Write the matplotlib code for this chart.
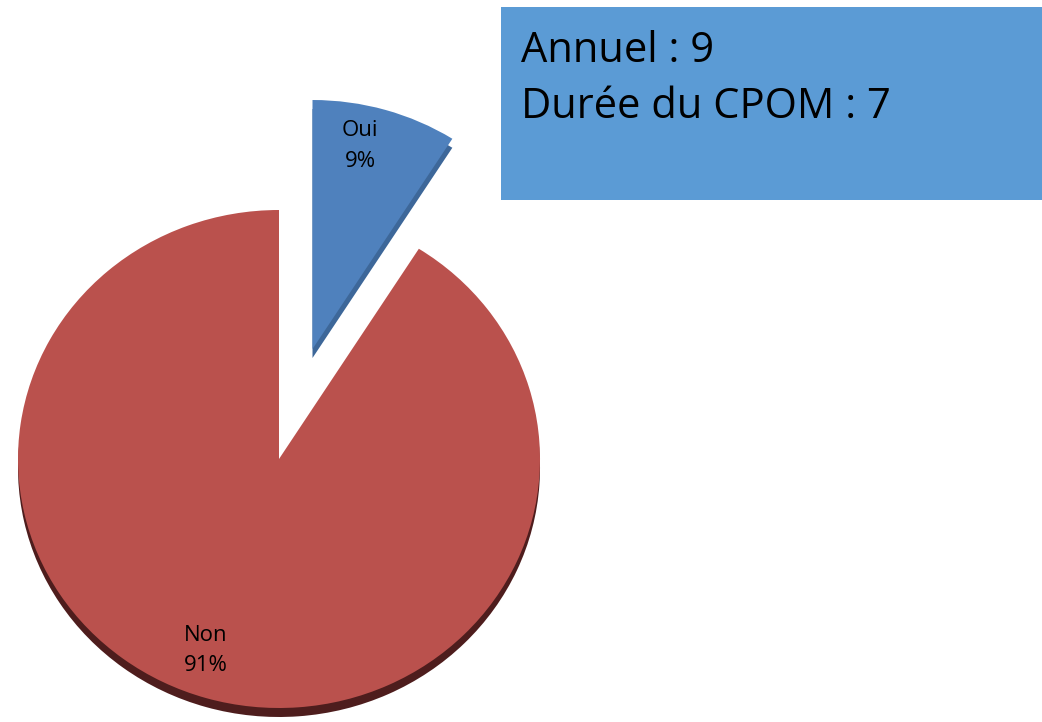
import matplotlib
matplotlib.use("Agg")
import matplotlib.pyplot as plt
from matplotlib.patches import Rectangle
import numpy as np

categories = ["Oui", "Non"]
values = [9, 91]
box_lines = ["Annuel : 9", "Durée du CPOM : 7"]

colors = ["#4F81BD", "#BA514D"]
depth_colors = ["#3D6799", "#4E1D1D"]

W, H = 1042, 722
fig = plt.figure(figsize=(W / 100, H / 100), dpi=100)
fig.patch.set_facecolor("white")
ax = fig.add_axes([0, 0, 1, 1])

rx, ry = 261.0, 249.0
cx, cy = 279.0, 459.0
explode = [0.46, 0.0]

# depth (3D edge) drawn first, shifted down
depth_off = 9.0 / ry
ax.pie(values, explode=explode, colors=depth_colors, startangle=90,
       counterclock=False, radius=1.0, center=(0, -depth_off),
       wedgeprops=dict(linewidth=0))

it = iter(categories)
wedges, texts, autotexts = ax.pie(
    values, explode=explode, colors=colors, startangle=90, counterclock=False,
    radius=1.0, autopct=lambda p: f"{next(it)}\n{p:.0f}%", pctdistance=0.82,
    wedgeprops=dict(linewidth=0),
    textprops=dict(fontsize=16, family="Open Sans", color="black", linespacing=1.6))

# fine placement of labels inside the wedges
angle_tweak = [3.6, -3.8]
label_r = [0.835, 0.818]
for w, t, da, r, ex in zip(wedges, autotexts, angle_tweak, label_r, explode):
    mid = np.deg2rad((w.theta1 + w.theta2) / 2)
    ox, oy = ex * np.cos(mid), ex * np.sin(mid)
    a = mid + np.deg2rad(da)
    t.set_position((ox + r * np.cos(a), oy + r * np.sin(a)))

ax.set_aspect("auto")
ax.set_xlim(-cx / rx, (W - cx) / rx)
ax.set_ylim(-(H - cy) / ry, cy / ry)
ax.axis("off")

# info box
bx0, by0, bx1, by1 = 501, 7, 1042, 200
fig.patches.append(Rectangle((bx0 / W, 1 - by1 / H), (bx1 - bx0) / W, (by1 - by0) / H,
                             transform=fig.transFigure, facecolor="#5B9BD5",
                             edgecolor="none", zorder=5))
for i, line in enumerate(box_lines):
    fig.text(521 / W, 1 - (62 + 56 * i) / H, line, fontsize=30, family="Open Sans",
             color="black", ha="left", va="baseline", zorder=6)

fig.savefig("out.png", dpi=100)
